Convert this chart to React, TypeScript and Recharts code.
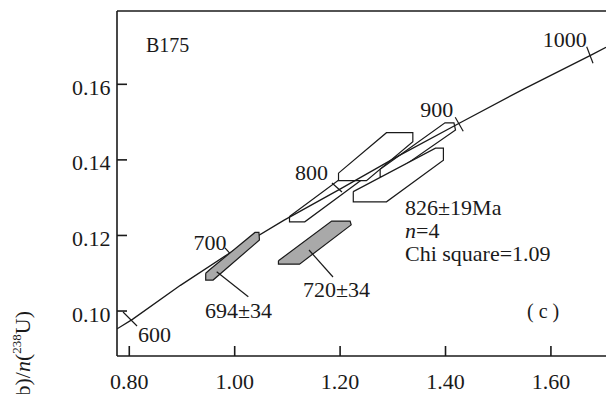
import React from "react";
import { ScatterChart, Scatter, XAxis, YAxis, ReferenceLine } from "recharts";

const xTicks = [0.8, 1.0, 1.2, 1.4, 1.6];
const yTicks = [0.1, 0.12, 0.14, 0.16];
const xDomain = [0.7767, 1.7045];
const yDomain = [0.0881, 0.1794];

// concordia curve
const concordiaX = [0.777, 0.806, 0.897, 0.992, 1.093, 1.199, 1.31, 1.426, 1.549, 1.677, 1.7045];
const concordiaY = [0.0953, 0.0978, 0.1068, 0.1155, 0.124, 0.1322, 0.141, 0.1497, 0.1588, 0.1678, 0.1698];

// age marks on the concordia (Ma)
const ages = [600, 700, 800, 900, 1000];
const ageX = [0.806, 0.992, 1.199, 1.426, 1.677];
const ageY = [0.0978, 0.1155, 0.1322, 0.1497, 0.1678];

// analysis error boxes, [x, y] vertices
const spot694 = [[0.945, 0.11], [0.953, 0.111], [1.0385, 0.1208], [1.046, 0.1208], [1.047, 0.1188], [0.959, 0.1082], [0.945, 0.1082]];
const spot720 = [[1.083, 0.1133], [1.184, 0.1238], [1.219, 0.1238], [1.221, 0.1228], [1.123, 0.1124], [1.083, 0.1124]];
const spotC = [[1.104, 0.125], [1.253, 0.1404], [1.268, 0.1404], [1.272, 0.1379], [1.133, 0.1236], [1.104, 0.1236]];
const spotE = [[1.197, 0.1365], [1.288, 0.1472], [1.338, 0.1472], [1.338, 0.1448], [1.25, 0.1345], [1.197, 0.1345]];
const spotD = [[1.276, 0.1375], [1.399, 0.1498], [1.416, 0.1498], [1.419, 0.1479], [1.292, 0.1356], [1.276, 0.1356]];
const spotF = [[1.225, 0.1316], [1.381, 0.1431], [1.396, 0.1431], [1.396, 0.1399], [1.288, 0.1289], [1.225, 0.1289]];

const FONT = "Liberation Serif, DejaVu Serif, serif";
const INK = "#1a1a1a";
const txt = { fontFamily: FONT };

const toPts = (v: number[][]) => [...v, v[0]].map(([x, y]) => ({ x, y }));
const concordia = concordiaX.map((x, i) => ({ x, y: concordiaY[i] }));
const ageMarks = ages.map((age, i) => ({ x: ageX[i], y: ageY[i], age }));

// tick segment and label offsets around each age mark (px)
const ageStyle: Record<number, { t: number[]; lx: number; ly: number; anchor: string }> = {
  600: { t: [-9.4, -7.3, 4.6, 6.7], lx: 5.6, ly: 22.7, anchor: "start" },
  700: { t: [-5.5, -4.5, 4, 6], lx: -4, ly: -2.5, anchor: "end" },
  800: { t: [-7.6, -6.4, 2.4, 2.6], lx: -11.6, ly: -9.4, anchor: "end" },
  900: { t: [-4, -6, 4, 8], lx: -6, ly: -6.5, anchor: "end" },
  1000: { t: [-4.8, -8.1, 1.5, 8.5], lx: -4.8, ly: -8, anchor: "end" },
};

const Empty = () => <g />;

const AgeMark = (props: any) => {
  const { cx, cy, payload } = props;
  const s = ageStyle[payload.age];
  return (
    <g>
      <line x1={cx + s.t[0]} y1={cy + s.t[1]} x2={cx + s.t[2]} y2={cy + s.t[3]} stroke={INK} strokeWidth={1.2} />
      <text x={cx + s.lx} y={cy + s.ly} textAnchor={s.anchor as any} style={txt} fontSize={22} fill={INK}>
        {payload.age}
      </text>
    </g>
  );
};

const XTick = (props: any) => {
  const { x, y, payload } = props;
  return (
    <g>
      <line x1={x} y1={y} x2={x} y2={y - 10} stroke={INK} strokeWidth={1.6} />
      <text x={x} y={y + 33} textAnchor="middle" style={txt} fontSize={22} fill={INK}>
        {payload.value.toFixed(2)}
      </text>
    </g>
  );
};

const YTick = (props: any) => {
  const { x, y, payload } = props;
  return (
    <g>
      <line x1={x} y1={y} x2={x + 10} y2={y} stroke={INK} strokeWidth={1.6} />
      <text x={x - 6.5} y={y + 10.5} textAnchor="end" style={txt} fontSize={22} fill={INK}>
        {payload.value.toFixed(2)}
      </text>
    </g>
  );
};

const box = (data: number[][], fill: string) => (
  <Scatter
    data={toPts(data)}
    line={{ stroke: INK, strokeWidth: 1.2, fill }}
    shape={Empty}
    isAnimationActive={false}
  />
);

export default function App() {
  return (
    <div style={{ position: "absolute", left: 0, top: 0, width: 606, height: 394, overflow: "hidden", background: "#fff" }}>
      <ScatterChart width={606} height={394} margin={{ top: 11, right: 0, bottom: 0, left: 0 }}>
        <XAxis
          type="number"
          dataKey="x"
          domain={xDomain}
          ticks={xTicks}
          allowDataOverflow
          height={38}
          tickSize={0}
          tickMargin={0}
          tick={XTick}
          axisLine={{ stroke: INK, strokeWidth: 1.6 }}
        />
        <YAxis
          type="number"
          dataKey="y"
          domain={yDomain}
          ticks={yTicks}
          allowDataOverflow
          width={117}
          tickSize={0}
          tickMargin={0}
          tick={YTick}
          axisLine={{ stroke: INK, strokeWidth: 1.6 }}
        />
        <ReferenceLine y={yDomain[1]} stroke={INK} strokeWidth={1.6} />
        {box(spotC, "#fff")}
        {box(spotE, "#fff")}
        {box(spotD, "#fff")}
        {box(spotF, "#fff")}
        <Scatter
          data={concordia}
          line={{ stroke: INK, strokeWidth: 1.3 }}
          shape={Empty}
          isAnimationActive={false}
        />
        <Scatter data={ageMarks} shape={AgeMark} isAnimationActive={false} />
        {box(spot694, "#a9a9a9")}
        {box(spot720, "#a9a9a9")}
      </ScatterChart>
      <svg
        width={606}
        height={394}
        style={{ position: "absolute", left: 0, top: 0, pointerEvents: "none", fontFamily: FONT }}
        fill={INK}
      >
        <text x={146} y={52} fontSize={20}>B175</text>
        <text x={405} y={215} fontSize={22}>826±19Ma</text>
        <text x={405} y={238} fontSize={22}>
          <tspan fontStyle="italic">n</tspan>=4
        </text>
        <text x={405} y={261} fontSize={22}>Chi square=1.09</text>
        <text x={527} y={318} fontSize={20}>( c )</text>
        <text x={205} y={318} fontSize={22}>694±34</text>
        <text x={303} y={297} fontSize={22}>720±34</text>
        <line x1={216.7} y1={271.7} x2={248.3} y2={296.7} stroke={INK} strokeWidth={1.2} />
        <line x1={309} y1={250} x2={333} y2={277} stroke={INK} strokeWidth={1.2} />
        <text x={30} y={311} fontSize={22} textAnchor="end" transform="rotate(-90 30 311)">
          <tspan fontStyle="italic">n</tspan>(<tspan fontSize={13} dy={-9}>206</tspan>
          <tspan dy={9}>Pb)/</tspan>
          <tspan fontStyle="italic">n</tspan>(<tspan fontSize={13} dy={-9}>238</tspan>
          <tspan dy={9}>U)</tspan>
        </text>
      </svg>
    </div>
  );
}
